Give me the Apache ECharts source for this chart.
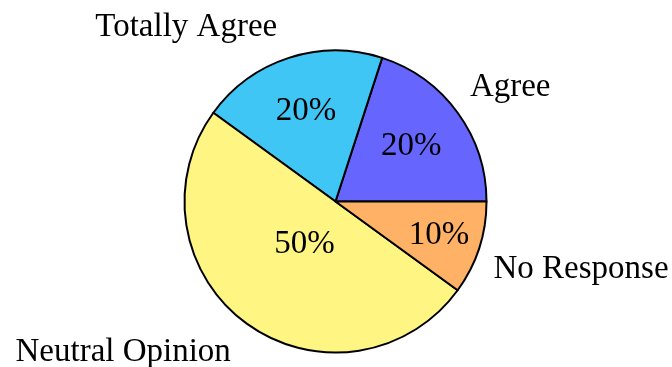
<!DOCTYPE html>
<html>
<head>
<meta charset="utf-8">
<script src="https://cdn.jsdelivr.net/npm/echarts@6/dist/echarts.min.js"></script>
<style>html,body{margin:0;padding:0;background:#fff;}#c{width:672px;height:367px;}</style>
</head>
<body>
<div id="c"></div>
<script>
const categories = ['Agree', 'Totally Agree', 'Neutral Opinion', 'No Response'];
const values = [20, 20, 50, 10];
const colors = ['#6666FF', '#40C6F4', '#FFF583', '#FFB266'];

const CX = 335.5, CY = 201.5, R = 151;
const innerFactor = [0.62, 0.63, 0.35, 0.72];
const total = values.reduce((a, b) => a + b, 0);
const midAngles = [];
let acc = 0;
values.forEach(v => { midAngles.push((acc + v / 2) / total * 2 * Math.PI); acc += v; });

const font = { fontFamily: 'Liberation Serif', fontSize: 33, color: '#000' };
const data = categories.map((n, i) => ({ name: n, value: values[i], itemStyle: { color: colors[i] } }));

const chart = echarts.init(document.getElementById('c'), null, { renderer: 'canvas' });
chart.setOption({
  backgroundColor: '#fff',
  animation: false,
  series: [
    {
      type: 'pie', center: [CX, CY], radius: R, startAngle: 0, clockwise: false,
      silent: true, data: data,
      itemStyle: { borderColor: '#000', borderWidth: 2 },
      label: Object.assign({ show: true, position: 'inside', formatter: '{d}%', lineHeight: 33 }, font),
      labelLine: { show: false },
      emphasis: { disabled: true },
      labelLayout: function (p) {
        const a = midAngles[p.dataIndex], f = innerFactor[p.dataIndex] * R;
        return { x: CX + f * Math.cos(a), y: CY - f * Math.sin(a), align: 'center', verticalAlign: 'middle' };
      }
    },
    {
      type: 'pie', center: [CX, CY], radius: R, startAngle: 0, clockwise: false,
      silent: true, z: 1, data: data.map(d => ({ name: d.name, value: d.value })),
      itemStyle: { color: 'rgba(0,0,0,0)', borderWidth: 0 },
      label: Object.assign({ show: true, position: 'outside', formatter: '{b}', lineHeight: 33,
        overflow: 'none', alignTo: 'none', bleedMargin: 0, edgeDistance: 0 }, font),
      labelLine: { show: false },
      emphasis: { disabled: true },
      labelLayout: function (p) {
        const a = midAngles[p.dataIndex], f = 1.1 * R;
        const c = Math.cos(a), s = Math.sin(a);
        return { x: CX + f * c + (c >= 0 ? 0 : -7), y: CY - f * s, align: c >= 0 ? 'left' : 'right', verticalAlign: s >= 0 ? 'bottom' : 'top' };
      }
    }
  ]
});
</script>
</body>
</html>
